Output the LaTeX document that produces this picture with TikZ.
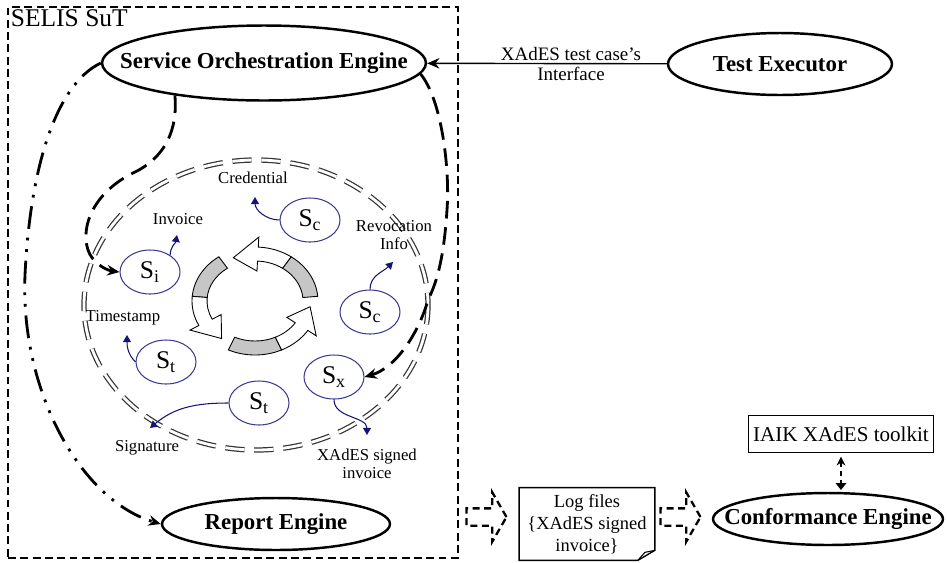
\documentclass[tikz,border=0pt]{standalone}
\usepackage{fontspec}
\setmainfont{Liberation Serif}
\usetikzlibrary{arrows.meta,shapes.geometric,shapes.arrows}

\definecolor{circblue}{RGB}{60,60,150}
\definecolor{tipblue}{RGB}{20,20,120}

\begin{document}
\begin{tikzpicture}[
    x=0.02cm, y=-0.02cm,
    engine/.style={ellipse, draw, line width=1.4pt, inner xsep=-1.2cm, inner ysep=0pt,
        font=\bfseries\fontsize{13}{15}\selectfont},
    service/.style={ellipse, draw=circblue, line width=0.6pt, inner sep=0pt,
        minimum width=1.2cm, minimum height=0.88cm, font=\fontsize{14.5}{16}\selectfont},
    infolabel/.style={font=\fontsize{9.5}{10.5}\selectfont, align=center, inner sep=1pt},
    edgelabel/.style={font=\fontsize{10.8}{12}\selectfont, inner sep=1.5pt},
    infoarrow/.style={tipblue, line width=0.6pt, -{Triangle[length=4pt, width=4.5pt]}},
    longdash/.style={line width=1.6pt, dash pattern=on 10pt off 5pt},
    dashdotdot/.style={line width=1.6pt, dash pattern=on 13pt off 5pt on 1.6pt off 5pt on 1.6pt off 5pt},
    sutbox/.style={draw, line width=1.1pt, dash pattern=on 4.5pt off 2.5pt, inner sep=0pt},
    ringline/.style={draw=black!80, line width=0.7pt, double=white, double distance=1.6pt,
        dash pattern=on 11pt off 5.5pt},
    flowarrow/.style={single arrow, draw, line width=1.3pt, dash pattern=on 4pt off 2.5pt,
        inner sep=0.15cm, minimum height=0.8cm, single arrow head extend=0.32cm,
        single arrow tip angle=120},
    toolbox/.style={draw, line width=0.8pt, minimum width=3.7cm, minimum height=0.74cm,
        inner sep=0pt, font=\fontsize{12}{14}\selectfont},
    docnode/.style={minimum width=2.7cm, minimum height=1.44cm, inner sep=0pt, align=center,
        font=\fontsize{10.5}{12.5}\selectfont},
    cyclegray/.style={draw, line width=0.5pt, fill=gray!45},
    cyclewhite/.style={draw, line width=0.5pt, fill=white},
]
\useasboundingbox (0,0) rectangle (947,562);

% ── SUT frame ───────────────────────────────────────────────
\node[sutbox, minimum width=9cm, minimum height=11.02cm] (sut) at (233,282.5) {};
\node[anchor=north west, inner sep=2pt, font=\fontsize{14.5}{16}\selectfont]
    (sutname) at (sut.north west) {SELIS SuT};

% ── Engines ─────────────────────────────────────────────────
\node[engine, minimum width=6.48cm, minimum height=1.5cm] (soe) at (264,63)
    {Service Orchestration Engine};
\node[engine, minimum width=4.48cm, minimum height=1.24cm] (te) at (780,64)
    {Test Executor};
\node[engine, minimum width=4.56cm, minimum height=1.04cm] (re) at (276,524)
    {Report Engine};
\node[engine, minimum width=4.6cm, minimum height=1.04cm] (ce) at (828,519)
    {Conformance Engine};
\node[toolbox] (iaik) at (841,434) {IAIK XAdES toolkit};

% ── Service ring ────────────────────────────────────────────
\draw[ringline] (256,305) ellipse [x radius=172, y radius=145];

\node[service] (sc1) at (310,220) {S\textsubscript{c}};
\node[service] (si)  at (150,272) {S\textsubscript{i}};
\node[service] (sc2) at (370,312) {S\textsubscript{c}};
\node[service] (st1) at (166,362) {S\textsubscript{t}};
\node[service] (st2) at (259,403) {S\textsubscript{t}};
\node[service] (sx)  at (334,377) {S\textsubscript{x}};

\node[infolabel] (cred) at (253,178) {Credential};
\node[infolabel] (inv)  at (178,219) {Invoice};
\node[infolabel] (rev)  at (394,235) {Revocation\\Info};
\node[infolabel] (ts)   at (123,318) {Timestamp};
\node[infolabel] (sig)  at (147,448) {Signature};
\node[infolabel] (xsi)  at (367,464) {XAdES signed\\invoice};

\coordinate (credtip) at (255,197);
\coordinate (invtip)  at (177,235);
\coordinate (revtip)  at (393,262);
\coordinate (tstip)   at (127,335);
\coordinate (sigtip)  at (150,428);
\coordinate (xtip)    at (367,435);

\draw[infoarrow] (sc1.west) to[out=180, in=-90] (credtip);
\draw[infoarrow] (si.40) to[out=90, in=-100] (invtip);
\draw[infoarrow] (sc2.north) to[out=90, in=-135] (revtip);
\draw[infoarrow] (st1.west) to[out=135, in=-90] (tstip);
\draw[infoarrow] (st2.west) to[out=180, in=40] (sigtip);
\draw[infoarrow] (sx.south) to[out=-90, in=90] (xtip);

% ── Cycle in the middle ─────────────────────────────────────
% outer radii 63/54, inner radii 48/40
\begin{scope}[shift={(255,301)}, yscale=-1]
\foreach \a in {5,125,245} {
    \pgfmathsetmacro{\b}{\a+50}
    \pgfmathsetmacro{\c}{\a+82}
    \pgfmathsetmacro{\d}{\a+108}
    \draw[cyclegray] (\a:63 and 54)
        arc[start angle=\a, end angle=\b, x radius=63, y radius=54]
        -- (\b:48 and 40)
        arc[start angle=\b, end angle=\a, x radius=48, y radius=40] -- cycle;
    \draw[cyclewhite] (\b:63 and 54)
        arc[start angle=\b, end angle=\c, x radius=63, y radius=54]
        -- (\c:73 and 64) -- (\d:55.5 and 47) -- (\c:38 and 30)
        -- (\c:48 and 40)
        arc[start angle=\c, end angle=\b, x radius=48, y radius=40] -- cycle;
}
\end{scope}

% ── Connectors ──────────────────────────────────────────────
\draw[line width=0.8pt, -{Stealth[length=7pt, width=6pt]}] (te) --
    node[pos=0.4, above, edgelabel] (ifc1) {XAdES test case’s}
    node[pos=0.4, below, edgelabel] (ifc2) {Interface} (soe);

\draw[longdash, -{Stealth[length=7pt, width=6pt]}] (soe.200)
    .. controls (178,130) and (165,158) .. (133,173)
    .. controls (95,192) and (80,225) .. (88,250)
    .. controls (92,262) and (105,270) .. (si.west);

\draw[longdash, -{Stealth[length=7pt, width=6pt]}] (soe.-4)
    .. controls (442,100) and (450,170) .. (447,210)
    .. controls (444,255) and (438,280) .. (428,300)
    .. controls (418,335) and (395,368) .. (sx.east);

\draw[dashdotdot, -{Stealth[length=7pt, width=6pt]}] (soe.west)
    .. controls (55,85) and (30,170) .. (25,275)
    .. controls (20,390) and (80,500) .. (re.west);

% ── Log files and flow ──────────────────────────────────────
\node[docnode] (logf) at (587,524) {Log files\\\{XAdES signed\\invoice\}};
\draw[line width=0.8pt] (logf.north west) -- (logf.north east)
    -- ([yshift=0.2cm]logf.south east) -- ([xshift=-0.34cm]logf.south east)
    -- (logf.south west) -- cycle;
\draw[line width=0.6pt] ([yshift=0.2cm]logf.south east)
    -- ([xshift=-0.2cm, yshift=0.16cm]logf.south east)
    -- ([xshift=-0.34cm]logf.south east);

\node[flowarrow] (fa1) at (484,517) {};
\node[flowarrow] (fa2) at (678,517) {};

\draw[line width=1.4pt, dash pattern=on 3pt off 2pt,
    {Stealth[length=5pt, width=5pt]}-{Triangle[length=4pt, width=6pt]},
    shorten <=2pt, shorten >=1pt] (iaik.south) -- (iaik.south |- ce.north);

\end{tikzpicture}
\end{document}
